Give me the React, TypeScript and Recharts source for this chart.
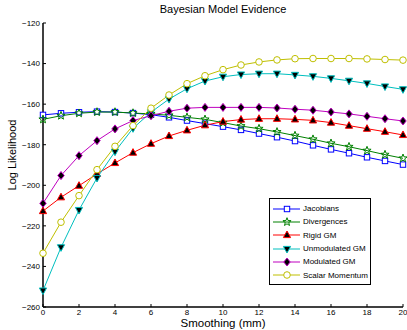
import React from 'react';
import { LineChart, Line, XAxis, YAxis, Legend } from 'recharts';

const smoothing = [0, 1, 2, 3, 4, 5, 6, 7, 8, 9, 10, 11, 12, 13, 14, 15, 16, 17, 18, 19, 20];
const jacobians = [-165.3, -164.5, -164.0, -163.7, -163.9, -164.4, -165.2, -166.5, -168.1, -169.6, -171.1, -172.7, -174.5, -176.3, -178.2, -180.3, -182.3, -184.2, -186.2, -188.0, -189.8];
const divergences = [-167.5, -165.7, -164.5, -163.9, -163.9, -164.4, -164.8, -165.5, -166.5, -167.5, -169.1, -170.8, -172.1, -173.7, -175.5, -177.3, -179.3, -181.0, -182.9, -184.9, -186.7];
const rigidGM = [-212.7, -205.9, -200.2, -194.4, -189.0, -183.9, -179.5, -175.7, -172.9, -170.4, -168.6, -167.6, -167.2, -167.2, -167.5, -168.0, -169.1, -170.6, -172.1, -173.6, -175.2];
const unmodulatedGM = [-251.9, -230.6, -212.2, -196.4, -183.4, -171.9, -164.0, -157.5, -152.4, -148.6, -146.5, -145.4, -145.0, -145.0, -145.6, -146.3, -147.3, -148.5, -149.8, -151.3, -152.7];
const modulatedGM = [-208.9, -195.2, -185.4, -178.0, -172.2, -168.1, -165.7, -163.5, -162.0, -161.6, -161.6, -161.6, -161.6, -161.9, -162.5, -163.0, -163.9, -164.8, -166.0, -167.2, -168.3];
const scalarMomentum = [-233.5, -218.2, -205.1, -192.3, -180.8, -170.6, -162.0, -155.5, -149.9, -146.0, -143.0, -140.7, -139.2, -138.2, -137.6, -137.5, -137.5, -137.5, -137.7, -138.0, -138.3];

const xTicks = [0, 2, 4, 6, 8, 10, 12, 14, 16, 18, 20];
const yTicks = [-260, -240, -220, -200, -180, -160, -140, -120];

const FONT = '"Liberation Sans", Arial, Helvetica, sans-serif';

type Kind = 'square' | 'star' | 'up' | 'down' | 'diamond' | 'circle';

const series: { key: string; name: string; color: string; kind: Kind; fill: string }[] = [
  { key: 'jac', name: 'Jacobians', color: '#0000ff', kind: 'square', fill: '#ffffff' },
  { key: 'div', name: 'Divergences', color: '#008000', kind: 'star', fill: 'none' },
  { key: 'rig', name: 'Rigid GM', color: '#ff0000', kind: 'up', fill: '#000000' },
  { key: 'unm', name: 'Unmodulated GM', color: '#00bfbf', kind: 'down', fill: '#000000' },
  { key: 'mod', name: 'Modulated GM', color: '#bf00bf', kind: 'diamond', fill: '#000000' },
  { key: 'sca', name: 'Scalar Momentum', color: '#bfbf00', kind: 'circle', fill: '#ffffff' },
];

const data = smoothing.map((s, i) => ({
  s,
  jac: jacobians[i],
  div: divergences[i],
  rig: rigidGM[i],
  unm: unmodulatedGM[i],
  mod: modulatedGM[i],
  sca: scalarMomentum[i],
}));

function starPoints(cx: number, cy: number, ro: number, ri: number) {
  const pts: string[] = [];
  for (let k = 0; k < 10; k++) {
    const r = k % 2 === 0 ? ro : ri;
    const a = -Math.PI / 2 + (k * Math.PI) / 5;
    pts.push(`${cx + r * Math.cos(a)},${cy + r * Math.sin(a)}`);
  }
  return pts.join(' ');
}

function Marker({ cx, cy, kind, color, fill }: { cx: number; cy: number; kind: Kind; color: string; fill: string }) {
  const sw = 1;
  switch (kind) {
    case 'square':
      return <rect x={cx - 2.7} y={cy - 2.7} width={5.4} height={5.4} stroke={color} strokeWidth={sw} fill={fill} />;
    case 'star':
      return <polygon points={starPoints(cx, cy, 4.3, 1.8)} stroke={color} strokeWidth={sw} fill={fill} />;
    case 'up':
      return <polygon points={`${cx},${cy - 4} ${cx + 3.6},${cy + 2.6} ${cx - 3.6},${cy + 2.6}`} stroke={color} strokeWidth={sw} fill={fill} />;
    case 'down':
      return <polygon points={`${cx},${cy + 4} ${cx + 3.6},${cy - 2.6} ${cx - 3.6},${cy - 2.6}`} stroke={color} strokeWidth={sw} fill={fill} />;
    case 'diamond':
      return <polygon points={`${cx},${cy - 4} ${cx + 3.2},${cy} ${cx},${cy + 4} ${cx - 3.2},${cy}`} stroke={color} strokeWidth={sw} fill={fill} />;
    default:
      return <circle cx={cx} cy={cy} r={3.3} stroke={color} strokeWidth={sw} fill={fill} />;
  }
}

function LegendBox() {
  return (
    <div
      style={{
        border: '1px solid #000',
        background: '#fff',
        width: 100,
        padding: '3px 0 2px 0',
        fontFamily: FONT,
        fontSize: 8,
        color: '#000',
      }}
    >
      {series.map((s) => (
        <div key={s.key} style={{ display: 'flex', alignItems: 'center', height: 13.3 }}>
          <svg width={31} height={12} style={{ marginLeft: 2 }}>
            <line x1={1} x2={28} y1={6} y2={6} stroke={s.color} strokeWidth={1} />
            <Marker cx={15} cy={6} kind={s.kind} color={s.color} fill={s.fill} />
          </svg>
          <span style={{ whiteSpace: 'nowrap' }}>{s.name}</span>
        </div>
      ))}
    </div>
  );
}

const tickStyle = { fontFamily: FONT, fontSize: 8, fill: '#000' };
const fmtY = (v: number) => (v < 0 ? `\u2212${Math.abs(v)}` : `${v}`);

export default function App() {
  return (
    <div style={{ position: 'absolute', left: 0, top: 0, width: 407, height: 330, background: '#fff', overflow: 'hidden' }}>
      <LineChart width={407} height={330} data={data} margin={{ top: 23, right: 4, bottom: 0, left: 0 }}>
        <XAxis
          dataKey="s"
          type="number"
          domain={[0, 20]}
          ticks={xTicks}
          height={23}
          tickSize={-3}
          tickMargin={5}
          tick={tickStyle}
          axisLine={{ stroke: '#000', strokeWidth: 1.5 }}
          tickLine={{ stroke: '#000' }}
        />
        <XAxis
          xAxisId="top"
          orientation="top"
          dataKey="s"
          type="number"
          domain={[0, 20]}
          ticks={xTicks}
          height={0}
          tickSize={-3}
          tick={false}
          axisLine={{ stroke: '#000', strokeWidth: 1.5 }}
          tickLine={{ stroke: '#000' }}
        />
        <YAxis
          type="number"
          domain={[-260, -120]}
          ticks={yTicks}
          width={43}
          tickSize={-3}
          tickMargin={6}
          tick={tickStyle}
          tickFormatter={fmtY}
          axisLine={{ stroke: '#000', strokeWidth: 1.5 }}
          tickLine={{ stroke: '#000' }}
        />
        <YAxis
          yAxisId="right"
          orientation="right"
          type="number"
          domain={[-260, -120]}
          ticks={yTicks}
          width={0}
          tickSize={-3}
          tick={false}
          axisLine={{ stroke: '#000', strokeWidth: 1.5 }}
          tickLine={{ stroke: '#000' }}
        />
        {series.map((s) => (
          <Line
            key={s.key}
            dataKey={s.key}
            name={s.name}
            stroke={s.color}
            strokeWidth={1}
            isAnimationActive={false}
            dot={(p: any) => (
              <Marker key={`${s.key}-${p.index}`} cx={p.cx} cy={p.cy} kind={s.kind} color={s.color} fill={s.fill} />
            )}
            activeDot={false}
          />
        ))}
        <Legend
          layout="vertical"
          align="center"
          verticalAlign="middle"
          content={() => <LegendBox />}
          wrapperStyle={{ left: 269, top: 198, width: 102 }}
        />
      </LineChart>
      <div
        style={{
          position: 'absolute',
          left: 43,
          width: 360,
          top: 3,
          textAlign: 'center',
          fontFamily: FONT,
          fontSize: 11,
          lineHeight: '13px',
        }}
      >
        Bayesian Model Evidence
      </div>
      <div
        style={{
          position: 'absolute',
          left: 143,
          width: 160,
          top: 317,
          textAlign: 'center',
          fontFamily: FONT,
          fontSize: 11.5,
          lineHeight: '13px',
        }}
      >
        Smoothing (mm)
      </div>
      <div
        style={{
          position: 'absolute',
          left: 12,
          top: 155,
          transform: 'translate(-50%, -50%) rotate(-90deg)',
          whiteSpace: 'nowrap',
          fontFamily: FONT,
          fontSize: 11,
          lineHeight: '13px',
        }}
      >
        Log Likelihood
      </div>
    </div>
  );
}
